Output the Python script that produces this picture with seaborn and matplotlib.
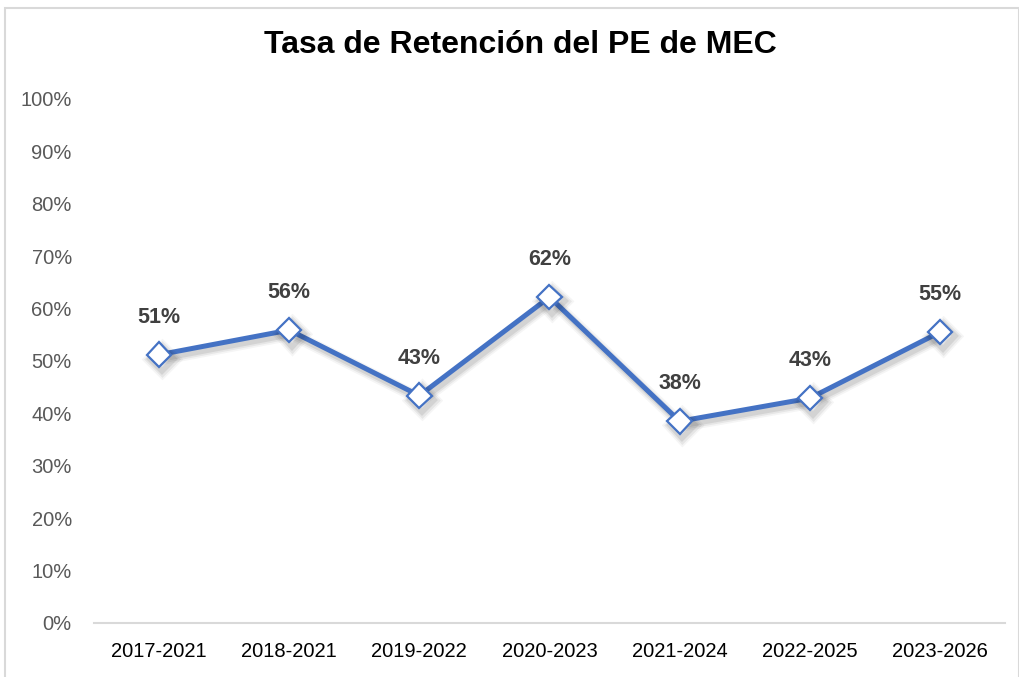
import matplotlib
matplotlib.use("Agg")
import matplotlib.pyplot as plt
import matplotlib.patheffects as pe
from matplotlib.patches import Rectangle
import seaborn as sns
import pandas as pd

# Data
periods = ["2017-2021", "2018-2021", "2019-2022", "2020-2023", "2021-2024", "2022-2025", "2023-2026"]
retention = [51.2, 55.9, 43.4, 62.2, 38.5, 42.9, 55.5]
labels = ["51%", "56%", "43%", "62%", "38%", "43%", "55%"]
yticks = [0, 10, 20, 30, 40, 50, 60, 70, 80, 90, 100]

df = pd.DataFrame({"periodo": periods, "tasa": retention})

sns.set_style("white")
plt.rcParams["font.family"] = ["Liberation Sans", "DejaVu Sans"]

fig = plt.figure(figsize=(10.2, 6.77), dpi=100)
ax = fig.add_axes([94 / 1020, 1 - 623 / 677, (1005 - 94) / 1020, (623 - 99) / 677])

# soft shadow: a few wide, faint copies offset down-right
shadow = [
    pe.SimpleLineShadow(offset=(2, -3), shadow_color="black", alpha=0.04, linewidth=9),
    pe.SimpleLineShadow(offset=(2, -3), shadow_color="black", alpha=0.06, linewidth=6.5),
    pe.SimpleLineShadow(offset=(2, -3), shadow_color="black", alpha=0.08, linewidth=4),
    pe.Normal(),
]
sns.lineplot(data=df, x="periodo", y="tasa", ax=ax, color="#4472C4", linewidth=3.6,
             marker="D", markersize=12.5, markerfacecolor="white", markeredgecolor="#4472C4",
             markeredgewidth=1.6, sort=False)
for ln in ax.lines:
    ln.set_path_effects(shadow)

for i, (v, t) in enumerate(zip(retention, labels)):
    ax.annotate(t, (i, v), xytext=(0, 27), textcoords="offset points", ha="center", va="center",
                fontsize=15.5, fontweight="bold", color="#404040")

ax.set_xlim(-0.5, len(periods) - 0.5)
ax.set_ylim(0, 100)
ax.set_yticks(yticks)
ax.set_yticklabels([f"{y}%" for y in yticks])
ax.set_xlabel("")
ax.set_ylabel("")
ax.tick_params(axis="y", colors="#595959", labelsize=14.5, length=0, pad=16)
ax.tick_params(axis="x", colors="black", labelsize=14.5, length=0, pad=14)
for s in ["top", "right", "left"]:
    ax.spines[s].set_visible(False)
ax.spines["bottom"].set_color("#D9D9D9")
ax.spines["bottom"].set_linewidth(1.5)

fig.text(520 / 1020, 1 - 45 / 677, "Tasa de Retención del PE de MEC", ha="center", va="center",
         fontsize=23, fontweight="bold", color="black")

fig.patches.append(Rectangle((5 / 1020, -0.01), 1014 / 1020, 1 - 7.5 / 677 + 0.01,
                             transform=fig.transFigure, fill=False, edgecolor="#D9D9D9", linewidth=1.5))

fig.savefig("out.png", dpi=100)
